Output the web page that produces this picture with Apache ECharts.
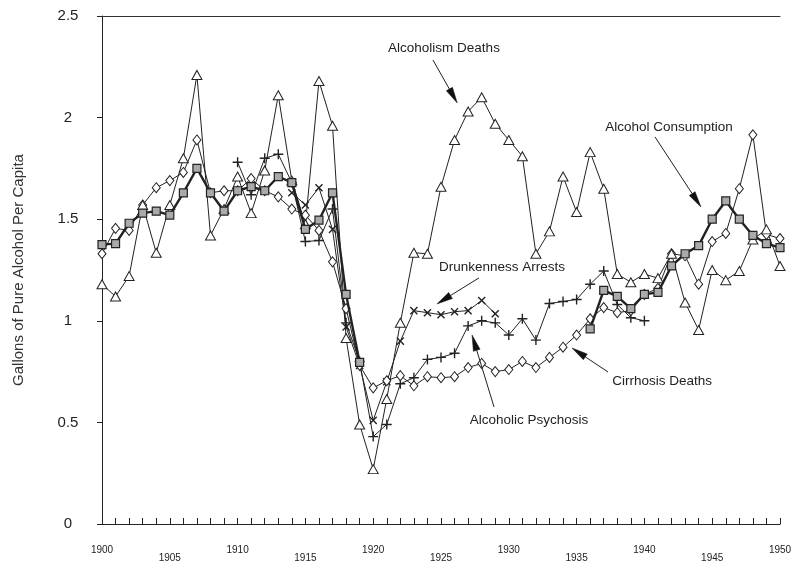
<!DOCTYPE html>
<html>
<head>
<meta charset="utf-8">
<script src="https://cdn.jsdelivr.net/npm/echarts@6/dist/echarts.min.js"></script>
<style>
html,body{margin:0;padding:0;background:#fff;}
#chart{width:792px;height:561px;}
</style>
</head>
<body>
<div id="chart"></div>
<script>
// ---- Data (years 1900..1950) ----
const years = [];
for (let y = 1900; y <= 1950; y++) years.push(y);

const alcoholismDeaths = [1.18,1.12,1.22,1.57,1.335,1.57,1.80,2.21,1.42,1.55,
  1.71,1.53,1.74,2.11,1.69,1.475,2.18,1.96,0.915,0.49,
  0.27,0.615,0.99,1.335,1.33,1.66,1.89,2.03,2.10,1.97,
  1.89,1.81,1.33,1.44,1.71,1.535,1.83,1.65,1.23,1.19,
  1.23,1.21,1.33,1.09,0.955,1.25,1.20,1.245,1.40,1.45,1.27];

const alcoholConsumption = [1.375,1.38,1.48,1.53,1.54,1.52,1.63,1.75,1.63,1.54,
  1.64,1.66,1.64,1.71,1.68,1.45,1.495,1.63,1.13,0.795,
  null,null,null,null,null,null,null,null,null,null,
  null,null,null,null,null,null,0.96,1.15,1.12,1.06,
  1.13,1.14,1.27,1.33,1.37,1.50,1.59,1.50,1.42,1.38,1.36];

const cirrhosisDeaths = [1.33,1.455,1.445,1.57,1.655,1.69,1.73,1.89,1.63,1.64,
  1.64,1.70,1.64,1.61,1.55,1.52,1.445,1.29,1.06,0.78,
  0.67,0.705,0.73,0.68,0.725,0.72,0.725,0.77,0.79,0.75,
  0.76,0.80,0.77,0.82,0.87,0.93,1.01,1.065,1.04,1.05,
  1.13,1.16,1.33,1.32,1.18,1.39,1.43,1.65,1.915,1.425,1.405];

const drunkennessArrests = [null,null,null,null,null,null,null,null,null,null,
  null,null,null,null,1.63,1.57,1.655,1.45,0.97,0.78,
  0.51,0.70,0.90,1.05,1.04,1.03,1.045,1.05,1.10,1.035,
  null,null,null,null,null,null,null,null,null,null,
  null,null,null,null,null,null,null,null,null,null,null];

const alcoholicPsychosis = [null,null,null,null,null,null,null,null,null,null,
  1.78,1.62,1.80,1.82,1.68,1.39,1.395,1.55,0.99,0.80,
  0.43,0.49,0.69,0.72,0.81,0.82,0.84,0.975,1.00,0.99,
  0.93,1.01,0.905,1.085,1.095,1.105,1.18,1.245,1.08,1.015,
  1.00,null,null,null,null,null,null,null,null,null,null];

// annotation labels: text, label position [year, value], arrow start, arrow tip
const annoTexts = ['Alcoholism Deaths','Alcohol Consumption','Drunkenness Arrests','Alcoholic Psychosis','Cirrhosis Deaths'];
const annoLabelPos = [[1925.22,2.343],[1941.81,1.954],[1929.50,1.265],[1931.49,0.512],[1941.30,0.704]];
const annoArrowFrom = [[1924.41,2.283],[1940.78,1.905],[1927.80,1.211],[1928.91,0.576],[1937.32,0.748]];
const annoArrowTo = [[1926.20,2.072],[1944.17,1.560],[1924.70,1.083],[1927.29,0.930],[1934.66,0.866]];

const yTicks = [0,0.5,1,1.5,2,2.5];

const pair = arr => years.map((y,i) => [y, arr[i]]);

const chart = echarts.init(document.getElementById('chart'));
const FONT = 'Liberation Sans, Arial, sans-serif';
const plusPath = 'path://M4.3,0H5.7V4.3H10V5.7H5.7V10H4.3V5.7H0V4.3H4.3Z';

const option = {
  backgroundColor: '#fff',
  animation: false,
  grid: {left: 102, right: 12, top: 16, bottom: 37, show: false, containLabel: false, outerBoundsMode: 'none'},
  xAxis: [{
    type: 'value', min: 1900, max: 1950, interval: 1, position: 'bottom',
    axisLine: {show: true, onZero: false, lineStyle: {color: '#222', width: 1}},
    axisTick: {show: true, inside: true, length: 6, lineStyle: {color: '#222'}},
    splitLine: {show: false},
    axisLabel: {
      show: true, margin: 21, color: '#222', fontFamily: FONT, fontSize: 10,
      showMinLabel: true, showMaxLabel: true,
      formatter: v => {
        const y = Math.round(v);
        if (y % 10 === 0) return '{a|' + y + '}';
        if (y % 5 === 0) return '{b|' + y + '}';
        return '';
      },
      rich: {
        a: {fontSize: 10, fontFamily: FONT, color: '#222'},
        b: {fontSize: 10, fontFamily: FONT, color: '#222', padding: [8,0,0,0]}
      }
    }
  },{
    type: 'value', min: 1900, max: 1950, position: 'top',
    axisLine: {show: true, onZero: false, lineStyle: {color: '#333', width: 1}},
    axisTick: {show: false}, axisLabel: {show: false}, splitLine: {show: false}
  }],
  yAxis: {
    type: 'value', min: 0, max: 2.5, interval: 0.5,
    name: 'Gallons of Pure Alcohol Per Capita',
    nameLocation: 'middle', nameGap: 76,
    nameTextStyle: {fontFamily: FONT, fontSize: 15, color: '#333'},
    axisLine: {show: true, lineStyle: {color: '#222'}},
    axisTick: {show: true, length: 5, lineStyle: {color: '#222'}},
    splitLine: {show: false},
    axisLabel: {margin: 34, color: '#222', fontFamily: FONT, fontSize: 15, align: 'center',
      formatter: v => String(v)}
  },
  series: [
    {
      name: 'Drunkenness Arrests', type: 'line', data: pair(drunkennessArrests),
      symbol: plusPath, symbolRotate: 45, symbolSize: 10, showAllSymbol: true,
      lineStyle: {color: '#222', width: 1}, itemStyle: {color: '#222'}, z: 2
    },
    {
      name: 'Alcoholic Psychosis', type: 'line', data: pair(alcoholicPsychosis),
      symbol: plusPath, symbolSize: 10, showAllSymbol: true,
      lineStyle: {color: '#222', width: 1}, itemStyle: {color: '#222'}, z: 2
    },
    {
      name: 'Cirrhosis Deaths', type: 'line', data: pair(cirrhosisDeaths),
      symbol: 'diamond', symbolSize: [8,10], showAllSymbol: true,
      lineStyle: {color: '#222', width: 1},
      itemStyle: {color: '#fff', borderColor: '#222', borderWidth: 1}, z: 3
    },
    {
      name: 'Alcoholism Deaths', type: 'line', data: pair(alcoholismDeaths),
      symbol: 'triangle', symbolSize: [10,9], showAllSymbol: true,
      lineStyle: {color: '#222', width: 1},
      itemStyle: {color: '#fff', borderColor: '#222', borderWidth: 1}, z: 3
    },
    {
      name: 'Alcohol Consumption', type: 'line', data: pair(alcoholConsumption),
      symbol: 'rect', symbolSize: 8, showAllSymbol: true, connectNulls: false,
      lineStyle: {color: '#222', width: 2.4},
      itemStyle: {color: '#aaa', borderColor: '#222', borderWidth: 1.2}, z: 4
    }
  ]
};
chart.setOption(option);

// annotations: text + arrow with filled slim head, placed via data coordinates
const graphics = [];
annoTexts.forEach((t, i) => {
  const p = chart.convertToPixel({gridIndex: 0}, annoLabelPos[i]);
  const a = chart.convertToPixel({gridIndex: 0}, annoArrowFrom[i]);
  const b = chart.convertToPixel({gridIndex: 0}, annoArrowTo[i]);
  graphics.push({
    type: 'text', x: p[0], y: p[1], z: 10,
    style: {text: t, fill: '#222', font: '13.5px ' + FONT, align: 'center', verticalAlign: 'middle'}
  });
  const dx = b[0]-a[0], dy = b[1]-a[1];
  const L = Math.sqrt(dx*dx+dy*dy);
  const ux = dx/L, uy = dy/L, nx = -uy, ny = ux;
  const hl = 16, hw = 3.5;
  const bx = b[0]-ux*hl, by = b[1]-uy*hl;
  graphics.push({
    type: 'line', z: 10,
    shape: {x1: a[0], y1: a[1], x2: bx, y2: by},
    style: {stroke: '#222', lineWidth: 1}
  });
  graphics.push({
    type: 'polygon', z: 10,
    shape: {points: [[b[0],b[1]],[bx+nx*hw,by+ny*hw],[bx-nx*hw,by-ny*hw]]},
    style: {fill: '#111', stroke: '#111', lineWidth: 0.5}
  });
});
chart.setOption({graphic: graphics});
</script>
</body>
</html>
